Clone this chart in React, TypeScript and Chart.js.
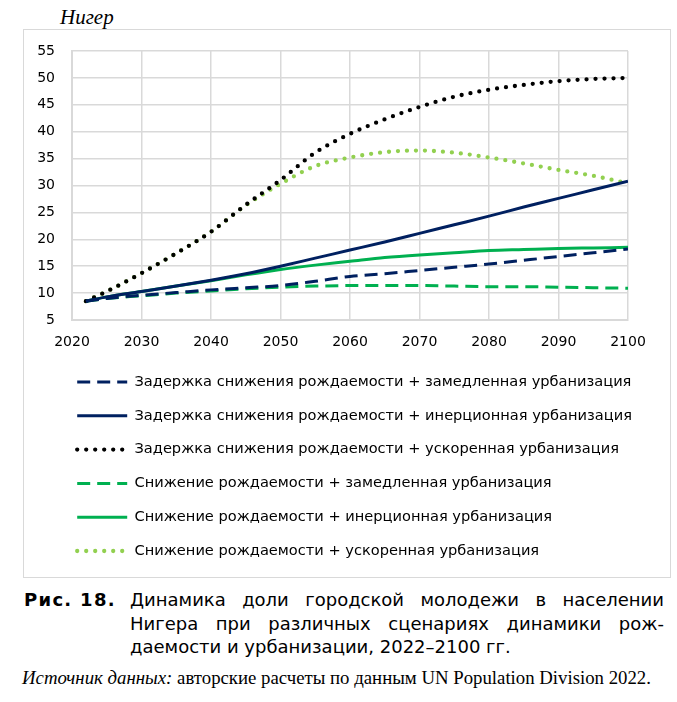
import React, { useEffect, useRef } from "react";
import { Chart, registerables } from "chart.js";

Chart.register(...registerables);

const years = [2022, 2025, 2030, 2035, 2040, 2045, 2050, 2055, 2060, 2065, 2070, 2075, 2080, 2085, 2090, 2095, 2100];

const delaySlow = [8.5, 9.0, 9.6, 10.1, 10.6, 11.0, 11.4, 12.2, 13.1, 13.6, 14.2, 14.8, 15.4, 16.1, 16.8, 17.5, 18.2];
const delayInertial = [8.5, 9.3, 10.3, 11.3, 12.4, 13.6, 15.0, 16.5, 18.0, 19.5, 21.1, 22.7, 24.3, 26.0, 27.6, 29.2, 30.8];
const delayFast = [8.5, 10.3, 13.7, 17.4, 21.4, 26.4, 31.0, 36.1, 39.6, 42.3, 44.6, 46.5, 47.8, 48.7, 49.4, 49.8, 50.0];
const declineSlow = [8.5, 9.0, 9.5, 10.0, 10.4, 10.8, 11.1, 11.3, 11.4, 11.4, 11.4, 11.3, 11.2, 11.2, 11.1, 11.0, 10.9];
const declineInertial = [8.5, 9.3, 10.3, 11.3, 12.3, 13.4, 14.4, 15.2, 15.9, 16.6, 17.1, 17.5, 17.9, 18.1, 18.3, 18.4, 18.5];
const declineFast = [8.5, 10.3, 13.7, 17.4, 21.4, 26.3, 30.3, 33.6, 35.2, 36.2, 36.5, 36.1, 35.2, 34.1, 32.9, 31.8, 30.4];

const seriesLabels = [
  "Задержка снижения рождаемости + замедленная урбанизация",
  "Задержка снижения рождаемости + инерционная урбанизация",
  "Задержка снижения рождаемости + ускоренная урбанизация",
  "Снижение рождаемости + замедленная урбанизация",
  "Снижение рождаемости + инерционная урбанизация",
  "Снижение рождаемости + ускоренная урбанизация",
];

const xTicks = [2020, 2030, 2040, 2050, 2060, 2070, 2080, 2090, 2100];
const yMin = 5;
const yMax = 55;
const yStep = 5;

const titleText = "Нигер";
const captionLabel = "Рис. 18.";
const captionLines = [
  "Динамика доли городской молодежи в населении",
  "Нигера при различных сценариях динамики рож-",
  "даемости и урбанизации, 2022–2100 гг.",
];
const sourceItalic = "Источник данных:";
const sourceText = " авторские расчеты по данным UN Population Division 2022.";

const NAVY = "#002060";
const GREEN = "#00b050";
const LIGHT = "#92d050";
const GRID = "#d9d9d9";
const SANS = "'DejaVu Sans', Verdana, sans-serif";
const LEGEND_SHIFT = 34;

function pts(vals: number[]) {
  return years.map((y, i) => ({ x: y, y: vals[i] }));
}

const legendShift = {
  id: "legendShift",
  afterLayout(chart: any) {
    const lg = chart.legend;
    if (lg) {
      lg.left = LEGEND_SHIFT;
      lg.right = chart.width;
      lg.width = chart.width - LEGEND_SHIFT;
    }
  },
};

export default function App() {
  const ref = useRef<HTMLCanvasElement | null>(null);

  useEffect(() => {
    if (!ref.current) return;
    const dashed = [13, 7];
    const dotted = [0, 9];
    const mk = (label: string, vals: number[], color: string, dash: number[], w: number) => ({
      label,
      data: pts(vals),
      borderColor: color,
      backgroundColor: color,
      borderWidth: w,
      borderDash: dash,
      borderCapStyle: dash === dotted ? "round" : "butt",
      pointRadius: 0,
      pointHoverRadius: 0,
      cubicInterpolationMode: "monotone",
      fill: false,
    });
    const chart = new Chart(ref.current, {
      type: "line",
      data: {
        datasets: [
          mk(seriesLabels[0], delaySlow, NAVY, dashed, 3),
          mk(seriesLabels[1], delayInertial, NAVY, [], 3),
          mk(seriesLabels[2], delayFast, "#000000", dotted, 4.3),
          mk(seriesLabels[3], declineSlow, GREEN, dashed, 3),
          mk(seriesLabels[4], declineInertial, GREEN, [], 3),
          mk(seriesLabels[5], declineFast, LIGHT, dotted, 4.3),
        ] as any,
      },
      plugins: [legendShift],
      options: {
        animation: false,
        responsive: false,
        devicePixelRatio: 1,
        layout: { padding: { left: 0, right: 42, top: 21, bottom: 8.7 } },
        plugins: {
          tooltip: { enabled: false },
          legend: {
            position: "bottom",
            align: "start",
            labels: {
              usePointStyle: true,
              pointStyle: "line",
              pointStyleWidth: 50,
              padding: 19.2,
              color: "#000",
              font: { family: SANS, size: 14.6 },
              generateLabels: (c: any) =>
                c.data.datasets.map((ds: any, i: number) => ({
                  text: ds.label,
                  fillStyle: ds.borderColor,
                  strokeStyle: ds.borderColor,
                  fontColor: "#000",
                  lineWidth: ds.borderWidth,
                  lineDash: ds.borderDash,
                  lineDashOffset: 0,
                  lineCap: ds.borderCapStyle,
                  lineJoin: "round",
                  pointStyle: "line",
                  rotation: 0,
                  hidden: false,
                  datasetIndex: i,
                })),
            },
          },
        },
        scales: {
          x: {
            type: "linear",
            min: 2020,
            max: 2100,
            afterBuildTicks: (s: any) => {
              s.ticks = xTicks.map((v) => ({ value: v }));
            },
            afterFit: (s: any) => {
              s.height = 35.5;
            },
            grid: { color: GRID, lineWidth: 1.5, drawTicks: false },
            border: { color: GRID, width: 2 },
            ticks: {
              padding: 14,
              color: "#000",
              font: { family: SANS, size: 14 },
              callback: (v: any) => String(v),
              maxRotation: 0,
            },
          },
          y: {
            min: yMin,
            max: yMax,
            afterFit: (s: any) => {
              s.width = 48;
            },
            grid: { color: GRID, lineWidth: 1.5, drawTicks: true, tickLength: 13, tickColor: "rgba(0,0,0,0)" },
            border: { color: GRID, width: 2 },
            ticks: {
              stepSize: yStep,
              padding: 4,
              color: "#000",
              font: { family: SANS, size: 14 },
            },
          },
        },
      } as any,
    });
    return () => chart.destroy();
  }, []);

  return (
    <div style={{ position: "absolute", left: 0, top: 0, width: 677, height: 702, background: "#fff" }}>
      <div
        style={{
          position: "absolute",
          left: 60,
          top: 4,
          fontFamily: "'Liberation Serif', 'Times New Roman', serif",
          fontStyle: "italic",
          fontSize: 21,
          lineHeight: "26px",
        }}
      >
        {titleText}
      </div>
      <div
        style={{
          position: "absolute",
          left: 23,
          top: 29,
          width: 646,
          height: 547,
          border: `1px solid ${GRID}`,
        }}
      >
        <canvas ref={ref} width={646} height={547} style={{ display: "block" }} />
      </div>
      <div
        style={{
          position: "absolute",
          left: 24,
          top: 588,
          width: 640,
          display: "flex",
          fontFamily: SANS,
          fontSize: 18,
          lineHeight: "23.5px",
          color: "#000",
        }}
      >
        <div style={{ width: 106, flex: "none", fontWeight: "bold", letterSpacing: "1.3px" }}>{captionLabel}</div>
        <div style={{ flex: 1 }}>
          {captionLines.map((l, i) => (
            <div
              key={i}
              style={{
                textAlign: i < 2 ? "justify" : "left",
                textAlignLast: i < 2 ? "justify" : "left",
                whiteSpace: "nowrap",
              } as any}
            >
              {l}
            </div>
          ))}
        </div>
      </div>
      <div
        style={{
          position: "absolute",
          left: 22,
          top: 666,
          fontFamily: "'Liberation Serif', 'Times New Roman', serif",
          fontSize: 18.8,
          lineHeight: "24px",
          color: "#000",
          whiteSpace: "nowrap",
        }}
      >
        <i>{sourceItalic}</i>
        {sourceText}
      </div>
    </div>
  );
}
